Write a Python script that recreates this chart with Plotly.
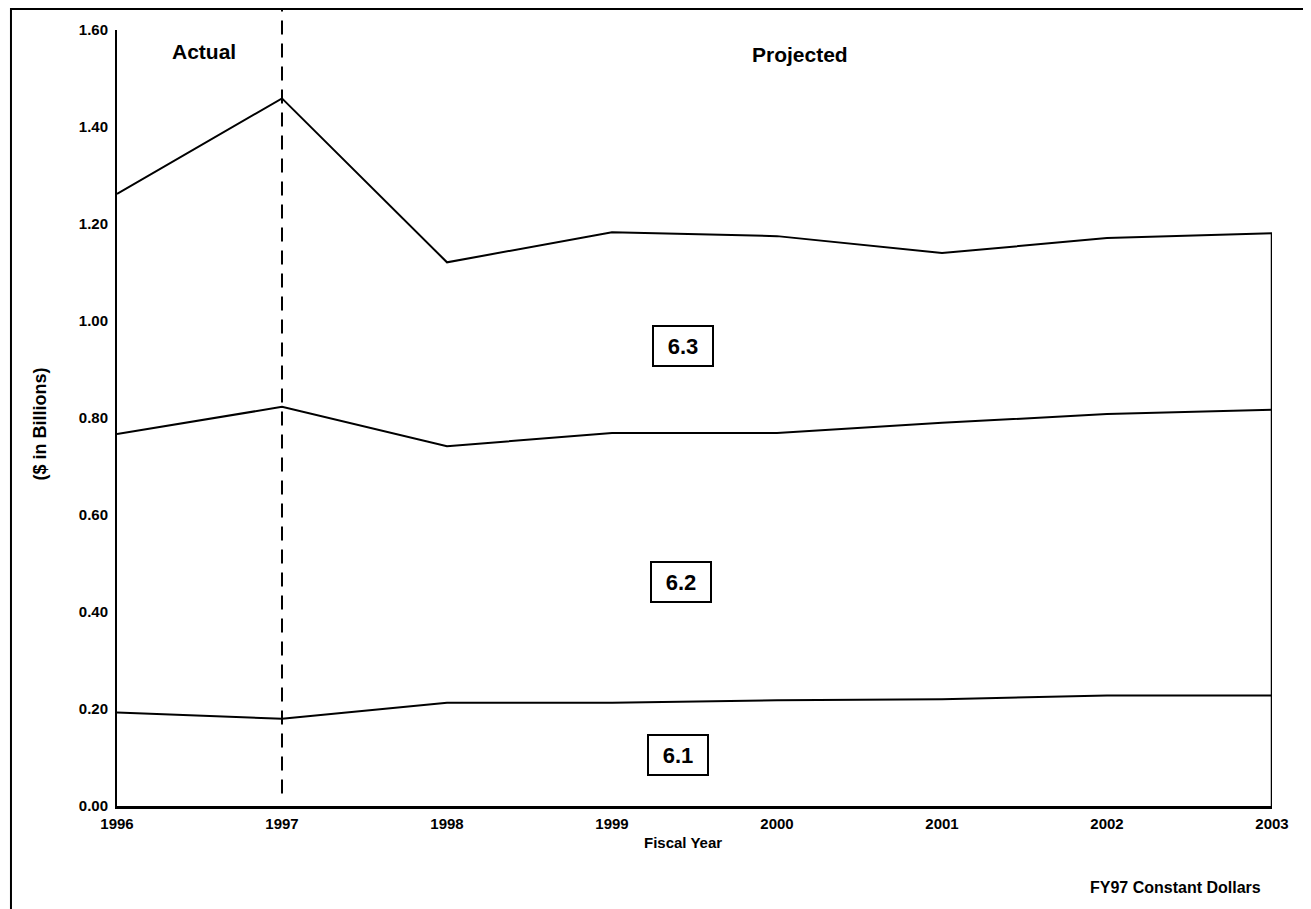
import plotly.graph_objects as go

years = [1996, 1997, 1998, 1999, 2000, 2001, 2002, 2003]
cat_6_1 = [0.193, 0.180, 0.213, 0.213, 0.218, 0.220, 0.228, 0.228]
cat_6_2 = [0.574, 0.643, 0.529, 0.556, 0.551, 0.570, 0.580, 0.589]
cat_6_3 = [0.495, 0.636, 0.379, 0.414, 0.406, 0.350, 0.363, 0.364]
series_names = ["6.1", "6.2", "6.3"]
y_ticks = [0.0, 0.2, 0.4, 0.6, 0.8, 1.0, 1.2, 1.4, 1.6]

FONT = "Liberation Sans, Arial, sans-serif"

fig = go.Figure()
for name, vals in zip(series_names, [cat_6_1, cat_6_2, cat_6_3]):
    fig.add_trace(go.Scatter(
        x=years, y=vals, name=name, mode="lines", stackgroup="one",
        line=dict(color="black", width=2), fillcolor="rgba(0,0,0,0)",
        hoverinfo="x+y+name",
    ))

top_last = cat_6_1[-1] + cat_6_2[-1] + cat_6_3[-1]

shapes = [
    # right edge of stacked area
    dict(type="line", xref="x", yref="y", x0=years[-1], x1=years[-1], y0=0, y1=top_last,
         line=dict(color="black", width=2.5)),
    # dashed divider Actual / Projected
    dict(type="line", xref="x", yref="paper", x0=1997, x1=1997, y0=0.016, y1=1.04,
         line=dict(color="black", width=2, dash="14px,9px")),
    # outer frame
    dict(type="rect", xref="paper", yref="paper", x0=-0.0918, x1=1.0286, y0=-0.14, y1=1.027,
         line=dict(color="black", width=2), fillcolor="rgba(0,0,0,0)", layer="below"),
]

head_font = dict(family=FONT, size=21, color="black", weight="bold")
box_font = dict(family=FONT, size=22, color="black", weight="bold")
box_common = dict(xref="x", yref="y", showarrow=False, font=box_font,
                  bordercolor="black", borderwidth=2, borderpad=2, bgcolor="white",
                  width=54, height=34)
annotations = [
    dict(x=1996.53, y=1.556, xref="x", yref="y", text="Actual", showarrow=False, font=head_font),
    dict(x=2000.14, y=1.55, xref="x", yref="y", text="Projected", showarrow=False, font=head_font),
    dict(x=1999.43, y=0.948, text="6.3", **box_common),
    dict(x=1999.42, y=0.462, text="6.2", **box_common),
    dict(x=1999.40, y=0.1057, text="6.1", **box_common),
    dict(x=0.49, y=-0.06, xref="paper", yref="paper", text="Fiscal Year", showarrow=False,
         xanchor="center", font=dict(family=FONT, size=15, color="black", weight="bold")),
    dict(x=0.9925, y=-0.118, xref="paper", yref="paper", text="FY97 Constant Dollars",
         showarrow=False, xanchor="right",
         font=dict(family=FONT, size=16, color="black", weight="bold")),
    dict(x=-0.0667, y=0.493, xref="paper", yref="paper", text="($ in Billions)", showarrow=False,
         xanchor="center", yanchor="middle", textangle=-90,
         font=dict(family=FONT, size=18, color="black", weight="bold")),
]

fig.update_layout(
    width=1303, height=901,
    margin=dict(l=109, r=39, t=22, b=103),
    paper_bgcolor="white", plot_bgcolor="white",
    showlegend=False,
    font=dict(family=FONT, color="black"),
    shapes=shapes, annotations=annotations,
    xaxis=dict(range=[1996, 2003], tickmode="array", tickvals=years,
               ticktext=[str(y) for y in years], showgrid=False, zeroline=False,
               showline=True, linecolor="black", linewidth=2.5, ticks="outside",
               ticklen=2, tickcolor="rgba(0,0,0,0)",
               tickfont=dict(family=FONT, size=15, color="black", weight="bold")),
    yaxis=dict(range=[0, 1.6], tickmode="array", tickvals=y_ticks,
               ticktext=[f"{v:.2f}" for v in y_ticks], showgrid=False, zeroline=False,
               showline=True, linecolor="black", linewidth=2, ticks="outside",
               ticklen=4, tickcolor="rgba(0,0,0,0)",
               tickfont=dict(family=FONT, size=15, color="black", weight="bold")),
)

fig.write_html("out.html")
